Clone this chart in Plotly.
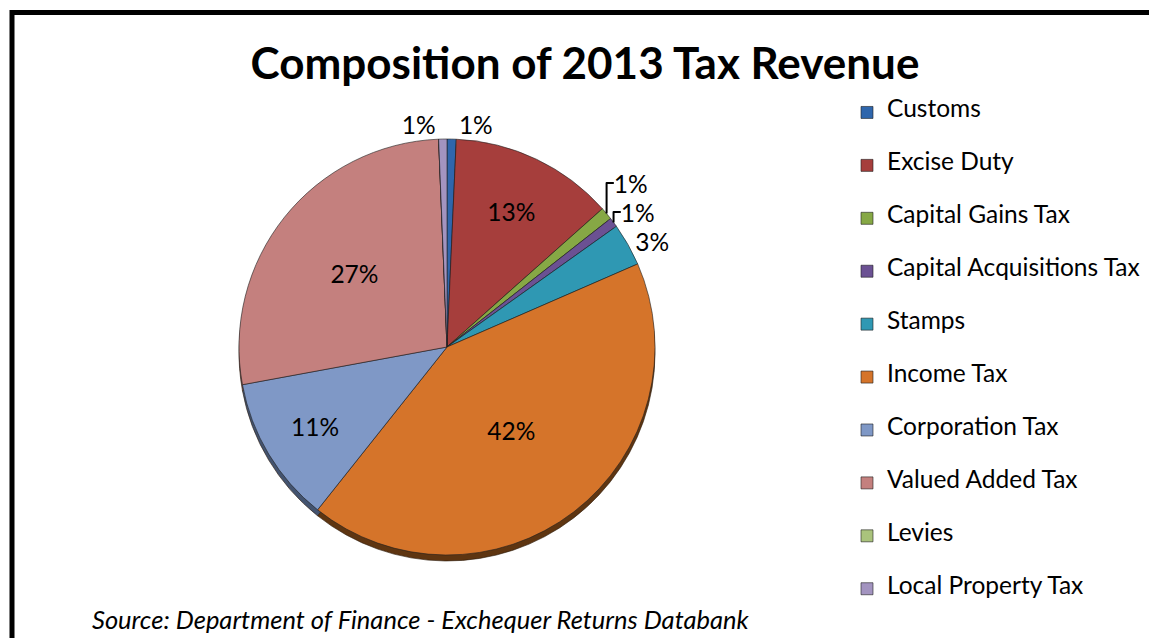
import plotly.graph_objects as go

# 2013 Exchequer tax receipts by heading (EUR million)
categories = [
    "Customs", "Excise Duty", "Capital Gains Tax", "Capital Acquisitions Tax",
    "Stamps", "Income Tax", "Corporation Tax", "Valued Added Tax", "Levies",
    "Local Property Tax",
]
receipts = [265, 4760, 366, 277, 1240, 15800, 4270, 10200, 0, 240]

# Excel-style palette (face) and darker tones for the pie's rim
face_colors = [
    "#2f66ac", "#a63e3c", "#86a845", "#6b5193", "#2f98b3",
    "#d5742a", "#7f98c6", "#c4807e", "#aac37c", "#a394c0",
]
rim_colors = [
    "#1b3a63", "#5e2221", "#4b5f26", "#3c2d53", "#1a5565",
    "#5e3511", "#43536f", "#6e4746", "#5f6d45", "#5a526b",
]
label_pos = ["outside", "inside", "outside", "outside", "outside",
             "inside", "inside", "inside", "none", "outside"]
label_fmt = ["%{percent:.0%}"] * len(categories)
label_fmt[categories.index("Levies")] = ""

FONT = "Lato"
W, H = 1149, 638
cx, cy, r = 447, 347, 208
depth = 6

legend_names = [
    f"<br><span style='font-size:24.5px'>{c}</span><br>" for c in categories
]

fig = go.Figure()

# rim of the pie (drawn first, slightly lower)
fig.add_trace(go.Pie(
    labels=legend_names, values=receipts, sort=False, direction="clockwise",
    rotation=0, marker=dict(colors=rim_colors, line=dict(color="#2a1a0a", width=0.6)),
    textinfo="none", showlegend=False, hoverinfo="skip",
    domain=dict(x=[(cx - r) / W, (cx + r) / W],
                y=[1 - (cy + depth + r) / H, 1 - (cy + depth - r) / H]),
))

fig.add_trace(go.Pie(
    labels=legend_names, values=receipts, sort=False, direction="clockwise",
    rotation=0,
    marker=dict(colors=face_colors, line=dict(color="rgba(30,30,30,0.75)", width=0.8)),
    texttemplate=label_fmt, textposition=label_pos,
    insidetextorientation="horizontal",
    textfont=dict(family=FONT, size=24.5, color="black"),
    outsidetextfont=dict(family=FONT, size=24.5, color="black"),
    hoverinfo="skip",
    domain=dict(x=[(cx - r) / W, (cx + r) / W],
                y=[1 - (cy + r) / H, 1 - (cy - r) / H]),
))

fig.update_layout(
    width=W, height=H,
    margin=dict(l=0, r=0, t=0, b=0),
    paper_bgcolor="white", plot_bgcolor="white",
    title=dict(text="<b>Composition of 2013 Tax Revenue</b>",
               font=dict(family=FONT, size=44, color="black"),
               x=585 / W, xanchor="center", xref="paper",
               y=1 - 64 / H, yanchor="middle", yref="container"),
    legend=dict(x=847 / W, xanchor="left", y=1 - 81 / H, yanchor="top",
                font=dict(family=FONT, size=12.8, color="black"),
                bgcolor="rgba(0,0,0,0)", itemwidth=30, traceorder="normal"),
    annotations=[dict(
        text="<i>Source: Department of Finance - Exchequer Returns Databank</i>",
        x=90 / W, xref="paper", xanchor="left",
        y=1 - 619 / H, yref="paper", yanchor="middle",
        showarrow=False, font=dict(family=FONT, size=25.5, color="black"),
    )],
    shapes=[dict(
        type="rect", xref="paper", yref="paper",
        x0=12 / W, y0=1 - 12.5 / H, x1=1.05, y1=-0.05,
        line=dict(color="black", width=5), fillcolor="rgba(0,0,0,0)",
    )],
)

fig.write_html("out.html")
